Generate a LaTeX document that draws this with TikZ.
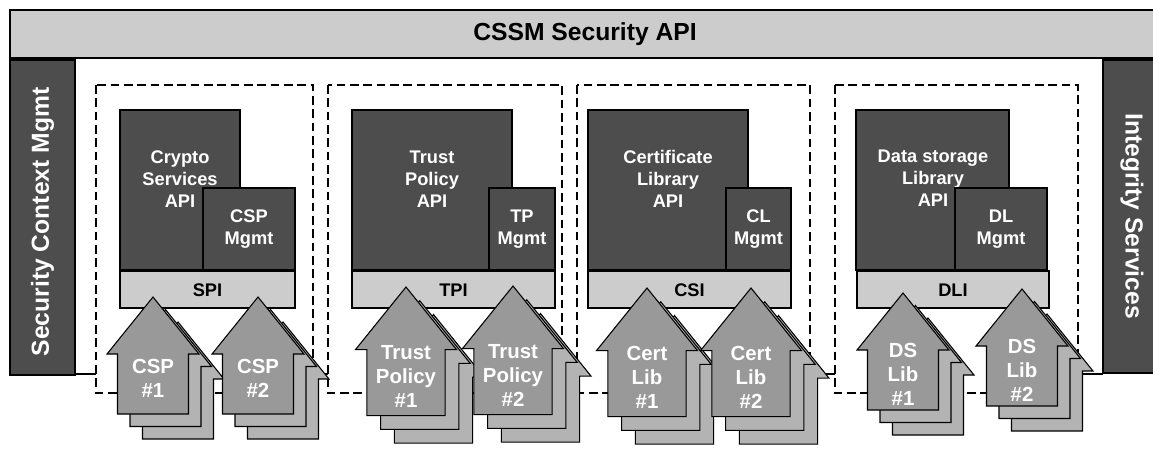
\documentclass[tikz,border=0pt]{standalone}
\usepackage{fontspec}
\setmainfont{Liberation Sans}

\definecolor{cdark}{RGB}{77,77,77}
\definecolor{clight}{RGB}{204,204,204}
\definecolor{cplug}{RGB}{153,153,153}
\definecolor{cstack}{RGB}{179,179,179}

% add-in module: two copies behind, one in front, label on top
\newcommand{\plugarrow}[5]{%
  \begin{scope}[shift={(#2,#3)}, scale=#4]
    \foreach \d in {25,12.5}
      \draw[stackarrow, shift={(\d,\d)}] (0,0) -- (46,57) -- (35.5,57) -- (35.5,117)
        -- (-35.5,117) -- (-35.5,57) -- (-46,57) -- cycle;
    \draw[frontarrow] (0,0) -- (46,57) -- (35.5,57) -- (35.5,117)
      -- (-35.5,117) -- (-35.5,57) -- (-46,57) -- cycle;
    \node[pluglbl] (#1) at (0,81) {#5};
  \end{scope}}

\begin{document}
\begin{tikzpicture}[x=0.75pt, y=-0.75pt,
  bigbox/.style={fill=cdark, draw=black, line width=0.8pt},
  ifbar/.style={fill=clight, draw=black, line width=0.8pt},
  modframe/.style={draw=black, fill=white, line width=1.9pt, dash pattern=on 6.5pt off 3.5pt},
  stackarrow/.style={fill=cstack, draw=black, line width=0.8pt},
  frontarrow/.style={fill=cplug, draw=black, line width=0.8pt},
  biglbl/.style={font=\fontsize{18.5}{22}\selectfont\bfseries},
  midlbl/.style={font=\fontsize{13.7}{16.5}\selectfont\bfseries, align=center, inner sep=0pt},
  pluglbl/.style={font=\fontsize{15.3}{18}\selectfont\bfseries, align=center, text=white, inner sep=0pt}]

  \useasboundingbox (0,0) rectangle (1153,472);

  % framework API on top
  \draw[ifbar, line width=1pt] (10,10) rectangle (1160,58);
  \node[biglbl] (cssm) at (585,34) {CSSM Security API};

  % side services
  \draw[bigbox] (10,60) rectangle (75,375);
  \node[biglbl, text=white, rotate=90] (secctx) at (42.5,222) {Security Context Mgmt};
  \draw[bigbox] (1103,60) rectangle (1160,373);
  \node[biglbl, text=white, rotate=-90] (integ) at (1132,216) {Integrity Services};
  \coordinate (ctxfoot) at (75,374);
  \coordinate (intfoot) at (1103,374);
  \draw[line width=0.8pt] (ctxfoot) -- (intfoot);

  % module frames
  \foreach \xa/\xb in {96/313, 328/562, 577/810, 835/1078}
    \draw[modframe] (\xa,85) rectangle (\xb,393);

  % crypto services
  \draw[bigbox] (120,110) rectangle (240,270);
  \node[midlbl, text=white] (cspapi) at (180,179) {Crypto\\Services\\API};
  \draw[bigbox] (203,188) rectangle (295,270);
  \node[midlbl, text=white] (cspmgmt) at (249,229) {CSP\\Mgmt};
  \draw[ifbar] (120,271) rectangle (295,308);
  \node[midlbl] (spi) at (207.5,290) {SPI};
  \plugarrow{csp1}{153}{297}{1}{CSP\\\#1}
  \plugarrow{csp2}{258}{297}{1}{CSP\\\#2}

  % trust policy
  \draw[bigbox] (352,110) rectangle (512,270);
  \node[midlbl, text=white] (tpapi) at (432,179) {Trust\\Policy\\API};
  \draw[bigbox] (489,188) rectangle (555,270);
  \node[midlbl, text=white] (tpmgmt) at (522,229) {TP\\Mgmt};
  \draw[ifbar] (352,271) rectangle (555,308);
  \node[midlbl] (tpi) at (453.5,290) {TPI};
  \plugarrow{tp1}{406}{287}{1.1}{Trust\\Policy\\\#1}
  \plugarrow{tp2}{513}{286}{1.1}{Trust\\Policy\\\#2}

  % certificate library
  \draw[bigbox] (588,110) rectangle (748,270);
  \node[midlbl, text=white] (clapi) at (668,179) {Certificate\\Library\\API};
  \draw[bigbox] (726,188) rectangle (791,270);
  \node[midlbl, text=white] (clmgmt) at (758.5,229) {CL\\Mgmt};
  \draw[ifbar] (588,271) rectangle (791,308);
  \node[midlbl] (csi) at (689.5,290) {CSI};
  \plugarrow{cl1}{647}{288}{1.1}{Cert\\Lib\\\#1}
  \plugarrow{cl2}{751}{288}{1.1}{Cert\\Lib\\\#2}

  % data storage library
  \draw[bigbox] (856,110) rectangle (1009,270);
  \node[midlbl, text=white] (dlapi) at (933,178) {Data storage\\Library\\API};
  \draw[bigbox] (955,188) rectangle (1047,270);
  \node[midlbl, text=white] (dlmgmt) at (1001,229) {DL\\Mgmt};
  \draw[ifbar] (857,271) rectangle (1049,308);
  \node[midlbl] (dli) at (953,290) {DLI};
  \plugarrow{dl1}{903}{293}{1}{DS\\Lib\\\#1}
  \plugarrow{dl2}{1022}{289}{1}{DS\\Lib\\\#2}

\end{tikzpicture}
\end{document}
